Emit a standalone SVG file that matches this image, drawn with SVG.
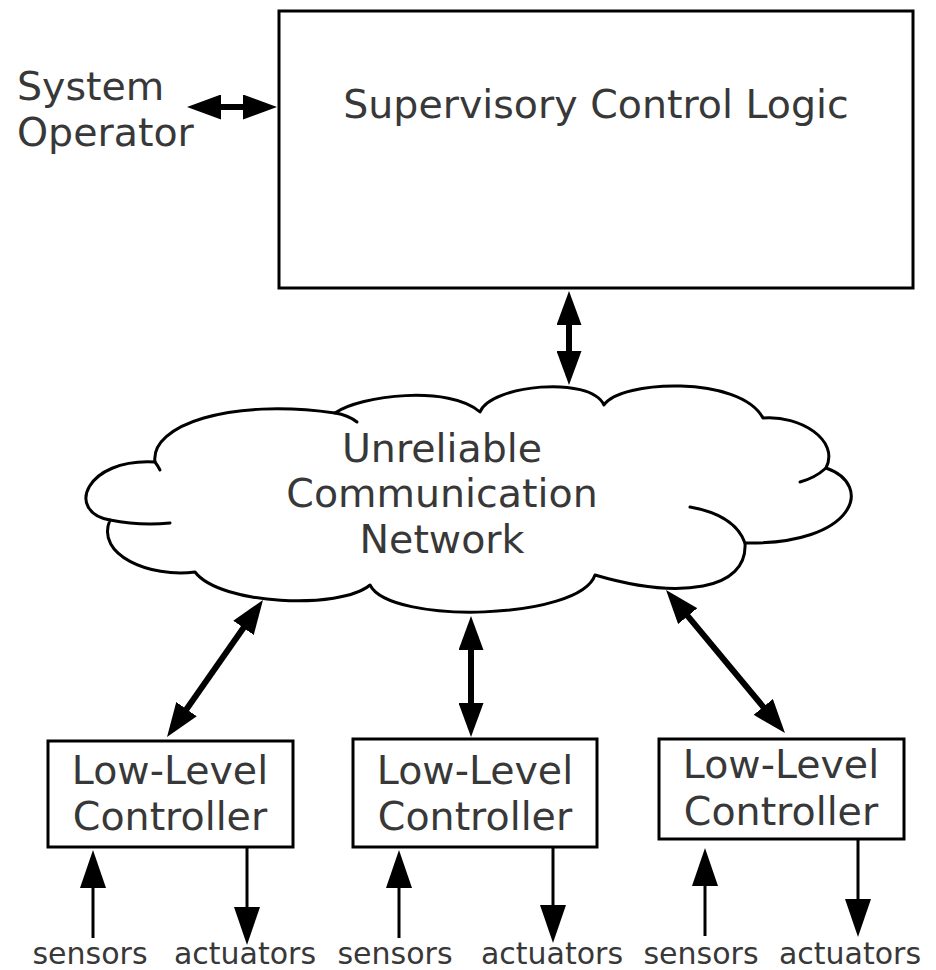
<svg xmlns="http://www.w3.org/2000/svg" width="936" height="970" viewBox="0 0 936 970">
<style>
.box{fill:#fff;stroke:#000;stroke-width:3}
.lbl{font-family:"DejaVu Sans","Liberation Sans",sans-serif;font-size:39.5px;fill:#383838}
.sm{font-family:"DejaVu Sans","Liberation Sans",sans-serif;font-size:30px;fill:#383838;text-anchor:middle}
.mid{text-anchor:middle}
.big{stroke:#000;stroke-width:6;fill:none;marker-start:url(#hb);marker-end:url(#hb)}
.io{stroke:#000;stroke-width:3;fill:none;marker-end:url(#hs)}
.cloud{fill:#fff;stroke:#000;stroke-width:3;stroke-linejoin:round}
.curl{fill:none;stroke:#000;stroke-width:3;stroke-linecap:round}
</style>
<defs>
<marker id="hb" markerUnits="userSpaceOnUse" markerWidth="34" markerHeight="25" refX="22" refY="12.5" orient="auto-start-reverse" viewBox="0 0 34 25">
<path d="M0,0 L34,12.5 L0,25 Z" fill="#000"/>
</marker>
<marker id="hs" markerUnits="userSpaceOnUse" markerWidth="38" markerHeight="26" refX="32" refY="13" orient="auto" viewBox="0 0 38 26">
<path d="M0,0 L38,13 L0,26 Z" fill="#000"/>
</marker>
</defs>
<rect width="936" height="970" fill="#fff"/>

<g id="operator">
<text class="lbl" x="17" y="100">System</text>
<text class="lbl" x="17" y="146">Operator</text>
</g>

<g id="supervisory">
<rect class="box" x="279" y="11" width="634" height="277"/>
<text class="lbl mid" x="596" y="118">Supervisory Control Logic</text>
</g>

<g id="network">
<path class="cloud" d="M155,462 C150,425 230,398 335,413 C360,395 450,385 480,412 C490,385 590,375 604,405 C620,380 740,375 763,418 C800,415 840,440 826,468 C875,485 855,545 745,543 C748,590 680,600 595,575 C580,620 390,625 370,585 C340,610 220,605 195,572 C150,578 95,555 110,520 C65,512 85,458 155,462 Z"/>
<path class="curl" d="M335,413 Q348,415 357,422"/>
<path class="curl" d="M110,520 Q140,526 170,523"/>
<path class="curl" d="M826,468 Q815,478 800,482"/>
<path class="curl" d="M690,507 Q735,515 745,543"/>
<path class="curl" d="M155,462 Q158,466 160,470"/>
<text class="lbl mid" x="442" y="462">Unreliable</text>
<text class="lbl mid" x="442" y="507">Communication</text>
<text class="lbl mid" x="442" y="553">Network</text>
</g>

<g id="llc1">
<rect class="box" x="48" y="741" width="245" height="106"/>
<text class="lbl mid" x="170" y="784">Low-Level</text>
<text class="lbl mid" x="170" y="830">Controller</text>
</g>
<g id="llc2">
<rect class="box" x="353" y="739" width="244" height="108"/>
<text class="lbl mid" x="475" y="784">Low-Level</text>
<text class="lbl mid" x="475" y="830">Controller</text>
</g>
<g id="llc3">
<rect class="box" x="659" y="739" width="245" height="100"/>
<text class="lbl mid" x="781" y="778">Low-Level</text>
<text class="lbl mid" x="781" y="825">Controller</text>
</g>

<g id="io-labels">
<text class="sm" x="90" y="964">sensors</text>
<text class="sm" x="245" y="964">actuators</text>
<text class="sm" x="395" y="964">sensors</text>
<text class="sm" x="552" y="964">actuators</text>
<text class="sm" x="701" y="964">sensors</text>
<text class="sm" x="850" y="964">actuators</text>
</g>

<g id="connectors">
<line class="big" x1="199" y1="107" x2="265" y2="107"/>
<line class="big" x1="569" y1="303" x2="569" y2="373"/>
<line class="big" x1="256.1" y1="609.8" x2="173.9" y2="727.2"/>
<line class="big" x1="471" y1="628" x2="471" y2="725"/>
<line class="big" x1="673.7" y1="599.2" x2="777.3" y2="723.8"/>
<line class="io" x1="93" y1="938" x2="93" y2="856"/>
<line class="io" x1="247" y1="848" x2="247" y2="939"/>
<line class="io" x1="399" y1="938" x2="399" y2="856"/>
<line class="io" x1="553" y1="848" x2="553" y2="937"/>
<line class="io" x1="705" y1="936" x2="705" y2="854"/>
<line class="io" x1="858" y1="840" x2="858" y2="931"/>
</g>
</svg>
